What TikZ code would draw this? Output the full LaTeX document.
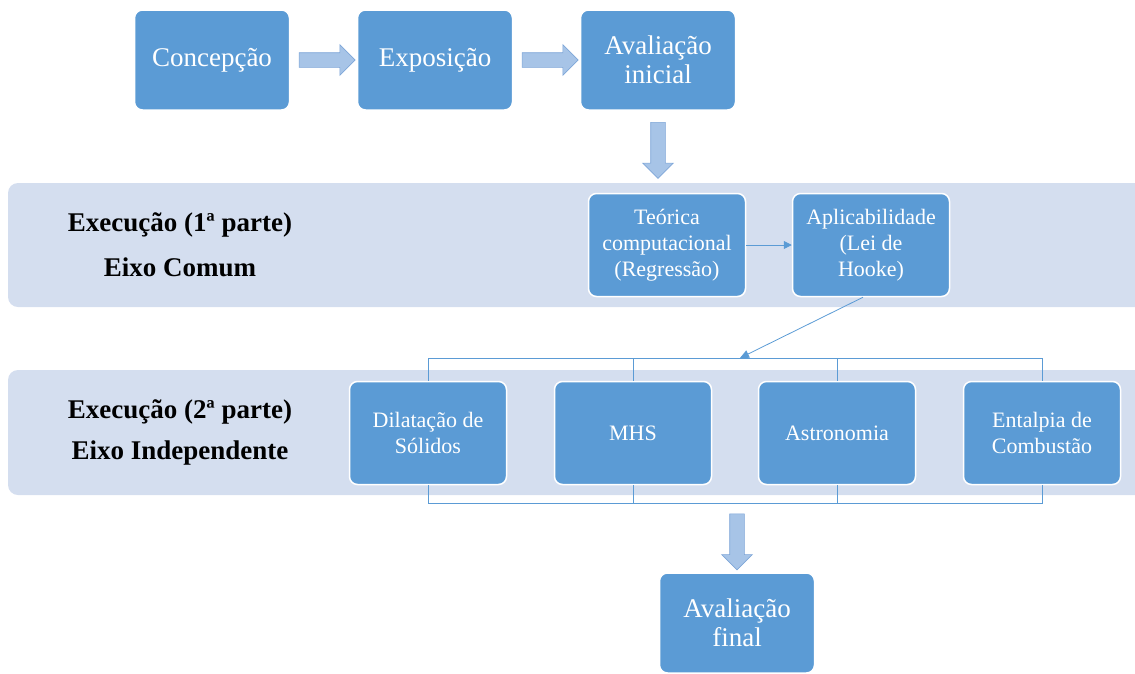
\documentclass[tikz,border=0pt]{standalone}
\usepackage{fontspec}
\setmainfont{Liberation Serif}
\usetikzlibrary{arrows.meta,calc,positioning,shapes.arrows}
\definecolor{boxblue}{HTML}{5B9BD5}
\definecolor{bandgray}{HTML}{D4DEEF}
\definecolor{arrowfill}{HTML}{A7C4E7}
\definecolor{arrowline}{HTML}{7EA6D8}

\begin{document}
\begin{tikzpicture}[x=1pt,y=-1pt,
  stage/.style={rounded corners=8pt,fill=boxblue,draw=white,line width=1.5pt,
    text=white,align=center,minimum width=155pt,minimum height=100pt,
    inner sep=2pt,font=\fontsize{27}{29}\selectfont},
  substage/.style={stage,minimum width=157pt,minimum height=103pt,
    font=\fontsize{22}{26}\selectfont},
  band/.style={rounded corners=10pt,fill=bandgray},
  blockarrow/.style={single arrow,fill=arrowfill,draw=arrowline,line width=0.6pt,
    inner xsep=0pt,inner ysep=7pt,single arrow head extend=8pt,
    single arrow head indent=0pt,minimum height=56pt},
  downarrow/.style={blockarrow,inner xsep=7pt,inner ysep=0pt,shape border rotate=270},
  conn/.style={draw=boxblue,line width=0.8pt},
  heading/.style={font=\fontsize{27}{29}\selectfont\bfseries}]
  \useasboundingbox (0,0) rectangle (1135,673);
  % grey bands
  \fill[band] (8,183) rectangle (1150,307);
  \fill[band] (8,370) rectangle (1150,495);
  % first row
  \node[stage] (concep) at (212,60) {Concepção};
  \node[stage] (expo) at (435,60) {Exposição};
  \node[stage] (avini) at (658,60) {Avaliação\\inicial};
  \node[blockarrow] (ar1) at ($(concep.east)!0.5!(expo.west)$) {};
  \node[blockarrow] (ar2) at ($(expo.east)!0.5!(avini.west)$) {};
  \node[downarrow] (ar3) at ($(avini.south)+(0,36)$) {};
  % common axis
  \node[heading] (exec1) at (180,225) {Execução (1ª parte)};
  \node[heading] (eixo1) at (180,267) {Eixo Comum};
  \node[substage] (teo) at (667,245) {Teórica\\computacional\\(Regressão)};
  \node[substage] (apl) at (871,245) {Aplicabilidade\\(Lei de\\Hooke)};
  \draw[conn,-{Triangle[length=8pt,width=8pt]}] (teo) -- (apl);
  % independent axis
  \node[heading] (exec2) at (180,412) {Execução (2ª parte)};
  \node[heading] (eixo2) at (180,453) {Eixo Independente};
  \foreach \n/\x/\t in {dil/428/{Dilatação de\\Sólidos},mhs/633/MHS,
      ast/837/Astronomia,ent/1042/{Entalpia de\\Combustão}}
    \node[substage] (\n) at (\x,433) {\t};
  \coordinate (topbar) at (0,358);
  \coordinate (botbar) at (0,503);
  \coordinate (join) at (740,358);
  \draw[conn] (dil.north) |- (ent.north |- topbar) -- (ent.north);
  \draw[conn] (dil.south) |- (ent.south |- botbar) -- (ent.south);
  \foreach \n in {mhs,ast} {
    \draw[conn] (\n.north) -- (\n.north |- topbar);
    \draw[conn] (\n.south) -- (\n.south |- botbar); }
  \draw[conn,-{Triangle[length=9pt,width=8pt]}] ($(apl.south)+(-8,0)$) -- (join);
  % final evaluation
  \node[stage] (avfin) at (737,623) {Avaliação\\final};
  \node[downarrow] (ar4) at ($(avfin.north)+(0,-34)$) {};
\end{tikzpicture}
\end{document}
